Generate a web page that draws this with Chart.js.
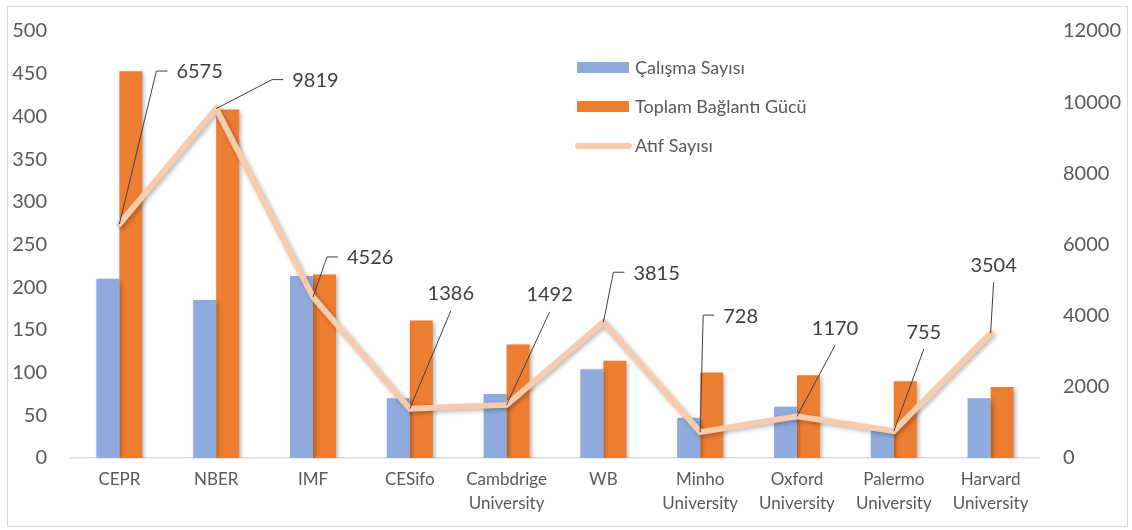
<!DOCTYPE html>
<html>
<head>
<meta charset="utf-8">
<script src="https://cdn.jsdelivr.net/npm/chart.js@4.4.1/dist/chart.umd.min.js"></script>
<style>
  html, body { margin: 0; padding: 0; background: #ffffff; }
  #wrap { position: relative; width: 1132px; height: 530px; }
</style>
</head>
<body>
<div id="wrap"><canvas id="kurumChart" width="1132" height="530"></canvas></div>
<script>
// veriler
const kurumlar = [
  'CEPR', 'NBER', 'IMF', 'CESifo', ['Cambdrige', 'University'], 'WB',
  ['Minho', 'University'], ['Oxford', 'University'], ['Palermo', 'University'], ['Harvard', 'University']
];
const calismaSayisi = [210, 185, 213, 70, 75, 104, 47, 60, 35, 70];
const baglantiGucu = [453, 408, 215, 161, 133, 114, 100, 97, 90, 83];
const atifSayisi = [6575, 9819, 4526, 1386, 1492, 3815, 728, 1170, 755, 3504];
const solEksen = [0, 500, 50];
const sagEksen = [0, 12000, 2000];

// etiket kılavuz çizgileri: [dx, dy, tip]
const etiketKonum = [
  [37, -153, 'sag'], [56, -29, 'sag'], [14, -40, 'sag'], [41, -98, 'ust'], [43, -93, 'ust'],
  [10, -50, 'sag'], [3, -117, 'sag'], [38, -71, 'ust'], [30, -82, 'ust'], [3, -51, 'ust']
];

const yaziRengi = '#595959';
const fontAdi = 'Lato, "Open Sans", sans-serif';

// çerçeve
const cercevePlugin = {
  id: 'cerceve',
  beforeDraw(chart) {
    const ctx = chart.ctx;
    ctx.save();
    ctx.strokeStyle = '#d9d9d9';
    ctx.lineWidth = 1;
    ctx.strokeRect(7.5, 6.5, 1120, 520);
    ctx.restore();
  }
};

// gölge
const golgePlugin = {
  id: 'golge',
  beforeDatasetDraw(chart, args) {
    const ctx = chart.ctx;
    ctx.save();
    ctx.shadowColor = 'rgba(0,0,0,0.28)';
    ctx.shadowBlur = 4;
    ctx.shadowOffsetX = 2;
    ctx.shadowOffsetY = 2;
  },
  afterDatasetDraw(chart) {
    chart.ctx.restore();
  }
};

// veri etiketleri
const etiketPlugin = {
  id: 'etiketler',
  afterDatasetsDraw(chart) {
    const ctx = chart.ctx;
    const meta = chart.getDatasetMeta(2);
    ctx.save();
    ctx.font = '20px ' + fontAdi;
    ctx.fillStyle = '#404040';
    ctx.strokeStyle = '#404040';
    ctx.lineWidth = 1;
    meta.data.forEach((pt, i) => {
      const [dx, dy, tip] = etiketKonum[i];
      const ex = pt.x + dx, ey = pt.y + dy;
      ctx.beginPath();
      ctx.moveTo(pt.x, pt.y);
      ctx.lineTo(ex, ey);
      if (tip === 'sag') ctx.lineTo(ex + 11, ey);
      ctx.stroke();
      const metin = String(atifSayisi[i]);
      ctx.textBaseline = 'middle';
      if (tip === 'sag') {
        ctx.textAlign = 'left';
        ctx.fillText(metin, ex + 20, ey + 1);
      } else {
        ctx.textAlign = 'center';
        ctx.fillText(metin, ex, ey - 17);
      }
    });
    ctx.restore();
  }
};

// lejant
const lejantPlugin = {
  id: 'lejant',
  afterDraw(chart) {
    const ctx = chart.ctx;
    const ds = chart.data.datasets;
    ctx.save();
    ctx.font = '18px ' + fontAdi;
    ctx.textBaseline = 'middle';
    ctx.textAlign = 'left';
    ctx.fillStyle = ds[0].backgroundColor;
    ctx.fillRect(577, 62, 52, 11);
    ctx.fillStyle = ds[1].backgroundColor;
    ctx.fillRect(577, 101, 52, 11);
    ctx.strokeStyle = ds[2].borderColor;
    ctx.lineWidth = 6;
    ctx.lineCap = 'round';
    ctx.beginPath();
    ctx.moveTo(578, 146);
    ctx.lineTo(629, 146);
    ctx.stroke();
    ctx.fillStyle = yaziRengi;
    ctx.fillText(ds[0].label, 635, 68);
    ctx.fillText(ds[1].label, 635, 107);
    ctx.fillText(ds[2].label, 635, 146);
    ctx.restore();
  }
};

// dikey eksenlerin üst/alt boşluğunu küçült
function dikeyEksenSigdir(genislik) {
  return (scale) => {
    scale.width = genislik;
    scale.paddingTop = 12;
    scale.paddingBottom = 12;
  };
}

const ctx = document.getElementById('kurumChart').getContext('2d');
new Chart(ctx, {
  data: {
    labels: kurumlar,
    datasets: [
      {
        type: 'bar',
        label: 'Çalışma Sayısı',
        data: calismaSayisi,
        backgroundColor: '#8faadc',
        yAxisID: 'y',
        order: 1,
        barPercentage: 1,
        categoryPercentage: 0.475
      },
      {
        type: 'bar',
        label: 'Toplam Bağlantı Gücü',
        data: baglantiGucu,
        backgroundColor: '#ed7d31',
        yAxisID: 'y',
        order: 1,
        barPercentage: 1,
        categoryPercentage: 0.475
      },
      {
        type: 'line',
        label: 'Atıf Sayısı',
        data: atifSayisi,
        borderColor: '#f8cbad',
        backgroundColor: '#f8cbad',
        borderWidth: 6,
        pointRadius: 0,
        borderCapStyle: 'round',
        borderJoinStyle: 'miter',
        tension: 0,
        yAxisID: 'y1',
        order: 0
      }
    ]
  },
  options: {
    responsive: false,
    animation: false,
    layout: { padding: { top: 31, left: 0, right: 0, bottom: 0 } },
    plugins: {
      legend: { display: false },
      tooltip: { enabled: false }
    },
    scales: {
      x: {
        grid: { display: false, drawTicks: false },
        border: { display: true, color: '#d9d9d9', width: 1.5 },
        ticks: {
          color: yaziRengi,
          font: { family: fontAdi, size: 17, lineHeight: 1.45 },
          padding: 9,
          maxRotation: 0,
          autoSkip: false
        },
        afterFit(scale) { scale.height = 72; }
      },
      y: {
        position: 'left',
        min: solEksen[0],
        max: solEksen[1],
        grid: { display: false, drawTicks: false },
        border: { display: false },
        ticks: {
          stepSize: solEksen[2],
          color: yaziRengi,
          font: { family: fontAdi, size: 20 },
          padding: 24
        },
        afterFit: dikeyEksenSigdir(71)
      },
      y1: {
        position: 'right',
        min: sagEksen[0],
        max: sagEksen[1],
        grid: { display: false, drawTicks: false },
        border: { display: false },
        ticks: {
          stepSize: sagEksen[2],
          color: yaziRengi,
          font: { family: fontAdi, size: 20 },
          padding: 24,
          callback: (v) => String(v)
        },
        afterFit: dikeyEksenSigdir(93)
      }
    }
  },
  plugins: [cercevePlugin, golgePlugin, etiketPlugin, lejantPlugin]
});
</script>
</body>
</html>
